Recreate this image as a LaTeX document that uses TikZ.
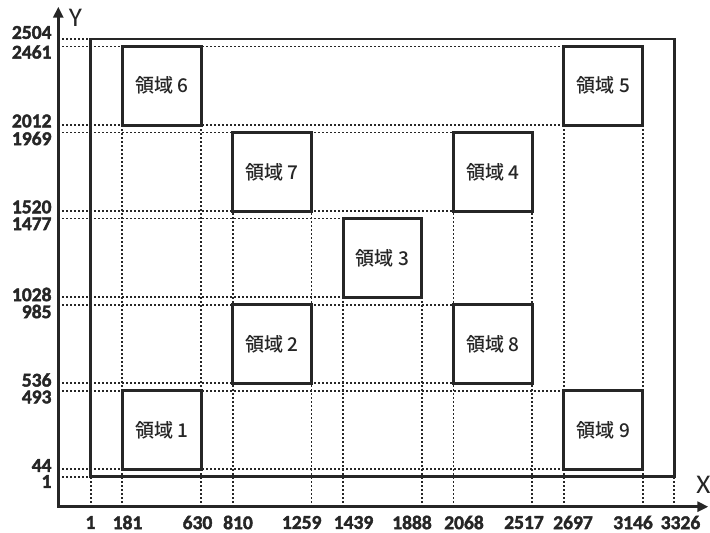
\documentclass[tikz,border=0pt]{standalone}
\usepackage{fontspec}
\newfontfamily\cjkfont{Noto Sans CJK JP Medium}
\newfontfamily\numfont{Carlito}
\newfontfamily\numboldfont{Carlito Bold}[FakeBold=2]
\usetikzlibrary{arrows.meta}
\definecolor{ink}{HTML}{262626}
\begin{document}
\begin{tikzpicture}[
  x=1pt,y=1pt,
  axisline/.style={draw=ink, line width=3.3pt, line join=miter},
  guide/.style={draw=ink, line width=1.8pt, dash pattern=on 1.8pt off 2.2pt},
  region/.style={draw=ink, line width=3pt, fill=white, minimum width=78.8pt, minimum height=78.5pt, inner sep=0pt, font=\cjkfont\fontsize{19}{19}\selectfont, text=ink},
  outerframe/.style={draw=ink, line width=2.6pt},
  ticklbl/.style={font=\numboldfont\fontsize{19.5}{19.5}\selectfont, text=ink, inner sep=0pt},
  axlabel/.style={font=\numfont\fontsize{27}{27}\selectfont, text=ink, inner sep=0pt}
]
\useasboundingbox (0,0) rectangle (710,533);
\begin{scope}[x=0.17552pt, y=0.17487pt, shift={(90.52pt,56.13pt)}]
  % guide lines
  \foreach \yy/\xe in {2504/1, 2461/2697, 2012/2697, 1969/2068, 1520/2068, 1477/1439, 1028/1439, 985/2068, 536/2068, 493/2697, 44/2697, 1/1}
    \draw[guide] (-183.6,\yy) -- (\xe,\yy);
  \foreach \xx/\ye in {1/1, 181/2012, 630/2012, 810/1520, 1259/1520, 1439/1028, 1888/1028, 2068/1520, 2517/1520, 2697/2012, 3146/2012, 3326/1}
    \draw[guide] (\xx,-170.6) -- (\xx,\ye);
  % outer frame
  \coordinate (f1) at (1,1);
  \coordinate (f2) at (3326,2504);
  \draw[outerframe] (f1) rectangle (f2);
  % regions
  \node[region] (r1) at (405.5,268.5) {領域 1};
  \node[region] (r2) at (1034.5,760.5) {領域 2};
  \node[region] (r3) at (1663.5,1252.5) {領域 3};
  \node[region] (r4) at (2292.5,1744.5) {領域 4};
  \node[region] (r5) at (2921.5,2236.5) {領域 5};
  \node[region] (r6) at (405.5,2236.5) {領域 6};
  \node[region] (r7) at (1034.5,1744.5) {領域 7};
  \node[region] (r8) at (2292.5,760.5) {領域 8};
  \node[region] (r9) at (2921.5,268.5) {領域 9};
  % axes
  \coordinate (O) at (-183.6,-170.6);
  \coordinate (ytip) at (-183.6,2688.6);
  \coordinate (xtip) at (3520,-170.6);
  \draw[axisline, {Triangle[length=11pt,width=10pt]}-{Triangle[length=11pt,width=10pt]}] (ytip) -- (O) -- (xtip);
\end{scope}
% axis labels
\node[axlabel] (ly) at (75.5,515) {Y};
\node[axlabel] (lx) at (703.5,48) {X};
% y tick labels
\foreach \yy/\t in {500.5/2504, 481/2461, 412/2012, 394.5/1969, 326/1520, 309.2/1477, 238.5/1028, 221.5/985, 153/536, 136/493, 67.5/44, 51.5/1}
  \node[ticklbl, anchor=east] at (51.7,\yy) {\t};
% x tick labels
\foreach \xx/\t in {90.5/1, 127.5/181, 197.5/630, 238/810, 301.7/1259, 353.5/1439, 412/1888, 464/2068, 524/2517, 573/2697, 633/3146, 680.5/3326}
  \node[ticklbl] at (\xx,10.5) {\t};
\end{tikzpicture}
\end{document}
